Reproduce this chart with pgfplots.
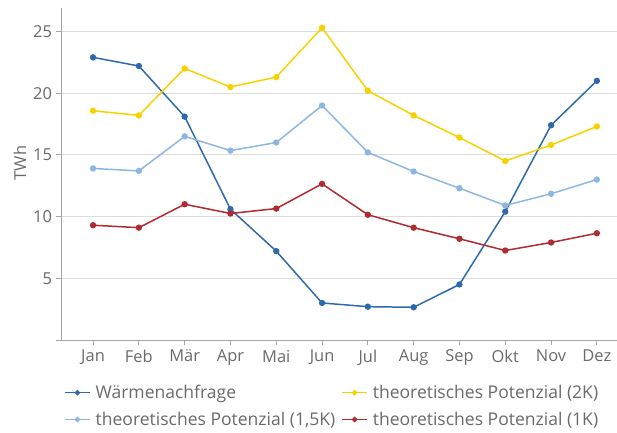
\documentclass[border=0pt]{standalone}
\usepackage{fontspec}
\setmainfont{Open Sans}
\usepackage{pgfplots}
\pgfplotsset{compat=1.18}
\definecolor{cdem}{HTML}{2E6AAB}
\definecolor{ctwo}{HTML}{F7D200}
\definecolor{conefive}{HTML}{8EB6E3}
\definecolor{cone}{HTML}{B02A2E}
\definecolor{txt}{HTML}{6A6A6A}
\definecolor{axc}{HTML}{A6A6A6}
\definecolor{grd}{HTML}{DDDDDD}
\begin{document}
\begin{tikzpicture}
\begin{axis}[
 scale only axis, width=556bp, height=332bp,
 xmin=-0.7, xmax=11.44, ymin=0, ymax=26.9,
 xtick={0,...,11},
 xticklabels={Jan,Feb,Mär,Apr,Mai,Jun,Jul,Aug,Sep,Okt,Nov,Dez},
 ytick={0,5,10,15,20,25},
 yticklabels={,5,10,15,20,25},
 axis x line*=bottom, axis y line*=left,
 axis line style={axc, line width=0.8pt, -},
 ymajorgrids, grid style={grd, line width=0.8pt},
 tick align=outside, major tick length=4.5bp,
 tick style={axc, line width=0.8pt},
 tick label style={font=\fontsize{16.5}{19}\selectfont, text=txt},
 /pgf/number format/assume math mode=true,
 yticklabel style={xshift=-1bp},
 xticklabel style={yshift=-2bp},
 ylabel={TWh},
 ylabel style={font=\fontsize{16.5}{19}\selectfont, text=txt, at={(axis description cs:-0.074,0.533)}, anchor=center, rotate=0},
 every axis plot/.append style={line width=1.5pt, mark=*, mark size=2.4bp},
 legend columns=2,
 legend cell align=left,
 legend style={at={(axis description cs:0,0)}, anchor=north west, xshift=0bp, yshift=-41bp,
   draw=none, fill=none, font=\fontsize{17.6}{20}\selectfont, text=txt,
   /tikz/every even column/.append style={column sep=4bp},
   /tikz/every odd column/.append style={column sep=3bp}, row sep=8bp},
 legend image code/.code={\draw[mark repeat=2,mark phase=2, mark size=1.9bp] plot coordinates {(0bp,0bp)(12.5bp,0bp)(25bp,0bp)};},
 clip=false,
]
\coordinate (SW) at (rel axis cs:0,0);
\coordinate (NE) at (rel axis cs:1,1);
\addplot[cdem] coordinates {(0,22.9)(1,22.2)(2,18.1)(3,10.6)(4,7.2)(5,3.0)(6,2.7)(7,2.65)(8,4.5)(9,10.4)(10,17.4)(11,21.0)};
\addlegendentry{Wärmenachfrage}
\addplot[ctwo] coordinates {(0,18.57)(1,18.2)(2,22.0)(3,20.5)(4,21.3)(5,25.3)(6,20.2)(7,18.2)(8,16.4)(9,14.5)(10,15.8)(11,17.3)};
\addlegendentry{theoretisches Potenzial (2K)}
\addplot[conefive] coordinates {(0,13.9)(1,13.7)(2,16.5)(3,15.35)(4,16.0)(5,19.0)(6,15.2)(7,13.65)(8,12.3)(9,10.9)(10,11.85)(11,13.0)};
\addlegendentry{theoretisches Potenzial (1,5K)}
\addplot[cone] coordinates {(0,9.3)(1,9.1)(2,11.0)(3,10.25)(4,10.65)(5,12.65)(6,10.15)(7,9.1)(8,8.2)(9,7.25)(10,7.9)(11,8.65)};
\addlegendentry{theoretisches Potenzial (1K)}
\end{axis}
\pgfresetboundingbox
\path ([shift={(-61bp,-93bp)}]SW) rectangle ([shift={(0bp,8bp)}]NE);
\end{tikzpicture}
\end{document}
